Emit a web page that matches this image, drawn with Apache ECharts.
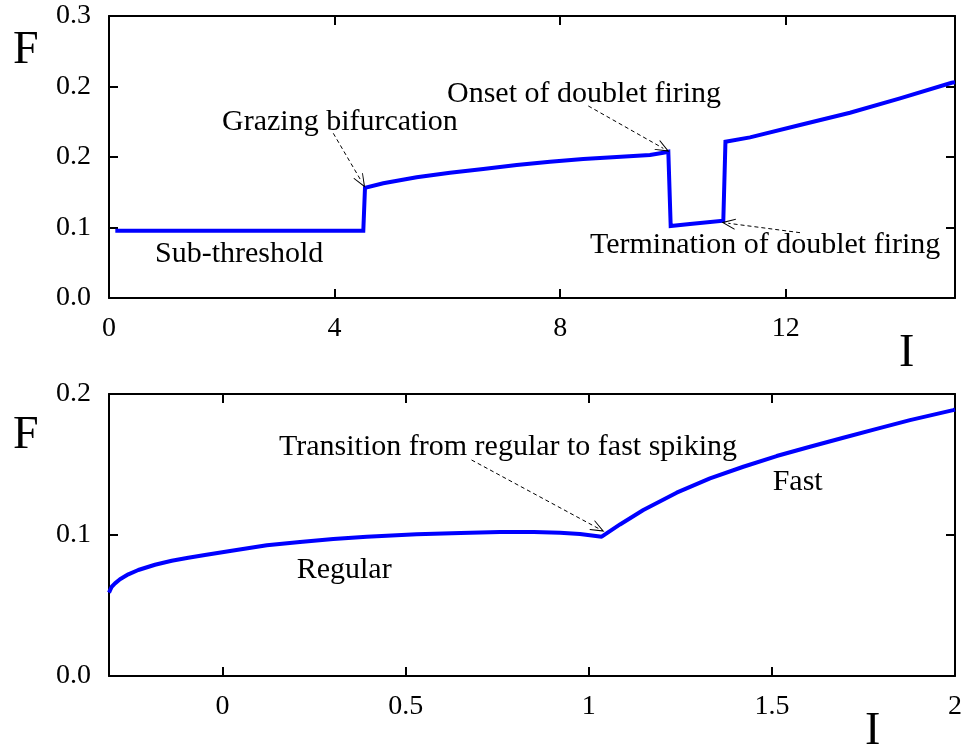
<!DOCTYPE html>
<html>
<head>
<meta charset="utf-8">
<script src="https://cdn.jsdelivr.net/npm/echarts@6/dist/echarts.min.js"></script>
<style>
  html, body { margin: 0; padding: 0; background: #fff; }
  #chart { width: 971px; height: 751px; }
</style>
</head>
<body>
<div id="chart"></div>
<script>
// top panel: firing rate vs current, with the doublet window
const topI = [0.112, 4.509, 4.539, 4.863, 5.455, 6.046, 6.636, 7.229, 7.819, 8.409, 9.002, 9.592, 9.828, 9.917,
  9.959, 10.301, 10.892, 10.93, 11.365, 12.252, 13.138, 14.025, 14.94, 15.0];
const topF = [0.0716, 0.0716, 0.1173, 0.1220, 0.1284, 0.1333, 0.1372, 0.1415, 0.1450, 0.1479, 0.1500, 0.1521, 0.1546, 0.1556,
  0.0766, 0.0787, 0.0822, 0.1663, 0.1709, 0.1840, 0.1971, 0.2124, 0.2290, 0.2295];
const topXTicks = [0, 4, 8, 12];
const topYTickLabels = ['0.0', '0.1', '0.2', '0.2', '0.3'];

// bottom panel: regular -> fast spiking
const botI = [-0.31, -0.3026, -0.2936, -0.280, -0.2573, -0.230, -0.1844, -0.1388, -0.0935, -0.0481, 0.025, 0.121, 0.2115,
  0.3025, 0.3937, 0.530, 0.65, 0.7576, 0.85, 0.9215, 0.976, 1.0353, 1.0853, 1.149, 1.240, 1.331, 1.422, 1.513, 1.604,
  1.695, 1.786, 1.877, 1.995, 2.0];
const botF = [0.0591, 0.0633, 0.0657, 0.0686, 0.0721, 0.0752, 0.0789, 0.0817, 0.0839, 0.0858, 0.0888, 0.0927, 0.0950,
  0.0971, 0.0988, 0.1005, 0.1015, 0.1021, 0.1021, 0.1016, 0.1007, 0.0988, 0.1075, 0.1177, 0.1300, 0.1402, 0.1484, 0.1560, 0.1626,
  0.1690, 0.1753, 0.1815, 0.1886, 0.1890];
const botXTicks = [0, 0.5, 1, 1.5, 2];
const botXTickLabels = ['0', '0.5', '1', '1.5', '2'];

// annotations: [text, I, F]
const topNotes = [
  ['Grazing bifurcation', 2.004, 0.1872],
  ['Onset of doublet firing', 5.993, 0.2173],
  ['Termination of doublet firing', 8.528, 0.0559],
  ['Sub-threshold', 0.8156, 0.0463]
];
const topArrows = [
  [[3.977, 0.1752], [4.48, 0.1237]],
  [[8.498, 0.2043], [9.828, 0.1592]],
  [[12.252, 0.0695], [10.98, 0.0795]]
];
const botNotes = [
  ['Transition from regular to fast spiking', 0.1542, 0.1624],
  ['Regular', 0.2025, 0.0748],
  ['Fast', 1.5022, 0.1376]
];
const botArrows = [
  [[0.680, 0.1532], [1.026, 0.1047]]
];

const FONT = 'Liberation Serif';
const chart = echarts.init(document.getElementById('chart'));

const lineCol = '#000';
const frameAxis = (extra) => Object.assign({
  type: 'value',
  axisLine: { show: true, onZero: false, lineStyle: { color: lineCol, width: 2 } },
  axisTick: { show: true, inside: true, length: 9, lineStyle: { color: lineCol, width: 2 } },
  axisLabel: { show: false },
  splitLine: { show: false }
}, extra);

const labelStyle = { color: '#000', fontFamily: FONT, fontSize: 28 };

const notePoints = (notes) => ({
  silent: true,
  symbol: 'circle',
  symbolSize: 0,
  animation: false,
  label: {
    show: true, position: 'inside', align: 'left', verticalAlign: 'middle',
    color: '#000', fontFamily: FONT, fontSize: 30, formatter: (p) => p.name
  },
  data: notes.map((n) => ({ name: n[0], coord: [n[1], n[2]] }))
});

const arrowLines = (arrows) => ({
  silent: true,
  animation: false,
  symbol: ['none', 'path://M0,0 L6,12 L5,12 L0,2.5 L-5,12 L-6,12 Z'],
  symbolSize: [11, 14],
  label: { show: false },
  lineStyle: { color: '#000', width: 1, type: [4, 3] },
  data: arrows.map((a) => [{ coord: a[0] }, { coord: a[1] }])
});

chart.setOption({
  backgroundColor: '#fff',
  animation: false,
  grid: [
    { left: 109, width: 846, top: 16, height: 282 },
    { left: 109, width: 846, top: 394, height: 282 }
  ],
  xAxis: [
    frameAxis({
      gridIndex: 0, position: 'bottom', min: 0, max: 15,
      axisTick: { show: true, inside: true, length: 9, customValues: topXTicks, lineStyle: { color: lineCol, width: 2 } },
      axisLabel: Object.assign({ show: true, margin: 17, customValues: topXTicks }, labelStyle)
    }),
    frameAxis({
      gridIndex: 0, position: 'top', min: 0, max: 15,
      axisTick: { show: true, inside: true, length: 9, customValues: topXTicks, lineStyle: { color: lineCol, width: 2 } }
    }),
    frameAxis({
      gridIndex: 1, position: 'bottom', min: -0.31, max: 2,
      axisTick: { show: true, inside: true, length: 9, customValues: botXTicks, lineStyle: { color: lineCol, width: 2 } },
      axisLabel: Object.assign({
        show: true, margin: 17, customValues: botXTicks,
        formatter: (v) => botXTickLabels[botXTicks.indexOf(v)]
      }, labelStyle)
    }),
    frameAxis({
      gridIndex: 1, position: 'top', min: -0.31, max: 2,
      axisTick: { show: true, inside: true, length: 9, customValues: botXTicks, lineStyle: { color: lineCol, width: 2 } }
    })
  ],
  yAxis: [
    frameAxis({
      gridIndex: 0, position: 'left', min: 0, max: 0.3, interval: 0.075,
      axisLabel: Object.assign({ show: true, margin: 18, formatter: (v, i) => topYTickLabels[i] }, labelStyle)
    }),
    frameAxis({ gridIndex: 0, position: 'right', min: 0, max: 0.3, interval: 0.075 }),
    frameAxis({
      gridIndex: 1, position: 'left', min: 0, max: 0.2, interval: 0.1,
      axisLabel: Object.assign({ show: true, margin: 18, formatter: (v) => v.toFixed(1) }, labelStyle)
    }),
    frameAxis({ gridIndex: 1, position: 'right', min: 0, max: 0.2, interval: 0.1 })
  ],
  graphic: [
    { type: 'text', left: 13, top: 28, style: { text: 'F', fill: '#000', fontFamily: FONT, fontSize: 46 } },
    { type: 'text', left: 13, top: 413, style: { text: 'F', fill: '#000', fontFamily: FONT, fontSize: 46 } },
    { type: 'text', left: 899, top: 331, style: { text: 'I', fill: '#000', fontFamily: FONT, fontSize: 46 } },
    { type: 'text', left: 865, top: 709, style: { text: 'I', fill: '#000', fontFamily: FONT, fontSize: 46 } }
  ],
  series: [
    {
      type: 'line', xAxisIndex: 0, yAxisIndex: 0, showSymbol: false, silent: true,
      data: topI.map((x, i) => [x, topF[i]]),
      lineStyle: { color: '#0000ff', width: 4, join: 'miter' },
      markPoint: notePoints(topNotes),
      markLine: arrowLines(topArrows)
    },
    {
      type: 'line', xAxisIndex: 2, yAxisIndex: 2, showSymbol: false, silent: true,
      data: botI.map((x, i) => [x, botF[i]]),
      lineStyle: { color: '#0000ff', width: 4 },
      markPoint: notePoints(botNotes),
      markLine: arrowLines(botArrows)
    }
  ]
});
</script>
</body>
</html>
